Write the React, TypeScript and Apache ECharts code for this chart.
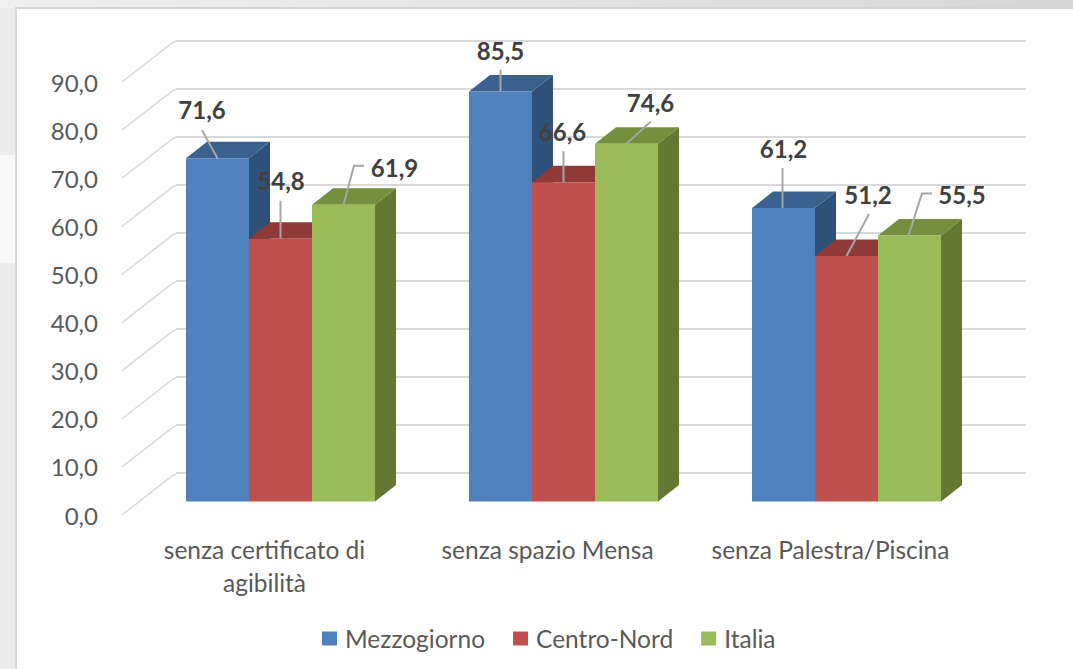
import React, { useEffect, useRef } from "react";
import * as echarts from "echarts";

const categories = ["senza certificato di\nagibilità", "senza spazio Mensa", "senza Palestra/Piscina"];
const seriesNames = ["Mezzogiorno", "Centro-Nord", "Italia"];
const mezzogiorno = [71.6, 85.5, 61.2];
const centroNord = [54.8, 66.6, 51.2];
const italia = [61.9, 74.6, 55.5];
const yTicks = [0, 10, 20, 30, 40, 50, 60, 70, 80, 90];

// layout: [front, top, side] colours per series
const faceColors = [
  ["#4f81bd", "#3b618f", "#2f5078"],
  ["#c0504d", "#8f3a38", "#7a3130"],
  ["#9bbb59", "#768f3f", "#647733"],
];
const DEPTH_X = 21;
const DEPTH_Y = 16.5;
const BAR_RATIO = 63 / 283;
const FONT = "Lato, 'Open Sans', sans-serif";

// label and leader-line placement relative to each bar's front-top centre: [series][category]
const labelOffsets = [
  [[-15.5, -49], [0, -41], [0, -60]],
  [[0.5, -58], [-1, -51], [21.5, -62]],
  [[51, -37], [24, -41], [52.5, -41]],
];
const leaderLines = [
  [[[0, 0], [-15.5, -28]], [[0, 0], [0, -22]], [[-1, 0], [-1, -40]]],
  [[[0, 0], [0, -38]], [[0, 0], [0, -31]], [[0, 0], [22.5, -42]]],
  [[[0, 0], [10.5, -39], [20.5, -39]], [[0, 0], [24, -22]], [[-1, 0], [12.5, -42], [22.5, -42]]],
];

const fmt = (v: number) => v.toFixed(1).replace(".", ",");

function barRenderer(si: number) {
  return (_params: any, api: any) => {
    const idx = api.value(0);
    const val = api.value(1);
    const band = api.size([1, 0])[0];
    const w = band * BAR_RATIO;
    const [cx, top] = api.coord([idx, val]);
    const [, base] = api.coord([idx, 0]);
    const x0 = cx + (si - 1.5) * w;
    const x1 = x0 + w;
    const [front, topC, side] = faceColors[si];
    const anchorX = (x0 + x1) / 2;
    const [tdx, tdy] = labelOffsets[si][idx];
    const line = leaderLines[si][idx].map((p) => [anchorX + p[0], top + p[1]]);
    return {
      type: "group",
      children: [
        { type: "polygon", shape: { points: [[x1, base], [x1 + DEPTH_X, base - DEPTH_Y], [x1 + DEPTH_X, top - DEPTH_Y], [x1, top]] }, style: { fill: side } },
        { type: "polygon", shape: { points: [[x0, top], [x1, top], [x1 + DEPTH_X, top - DEPTH_Y], [x0 + DEPTH_X, top - DEPTH_Y]] }, style: { fill: topC } },
        { type: "rect", shape: { x: x0, y: top, width: w, height: base - top }, style: { fill: front } },
        { type: "polyline", shape: { points: line }, style: { fill: "none", stroke: "#a6a6a6", lineWidth: 2 } },
        { type: "text", x: anchorX + tdx, y: top + tdy, style: { text: fmt(val), fill: "#404040", font: `bold 24px ${FONT}`, textAlign: "center", textVerticalAlign: "middle" } },
      ],
    };
  };
}

function wallRenderer(_params: any, api: any) {
  const [x, y] = api.coord([0, api.value(0)]);
  return {
    type: "polyline",
    shape: { points: [[x, y], [x + 50, y - 39], [x + 54, y - 41]] },
    style: { fill: "none", stroke: "#d9d9d9", lineWidth: 1.5 },
  };
}

export default function App() {
  const ref = useRef<HTMLDivElement>(null);
  useEffect(() => {
    const chart = echarts.init(ref.current!, null, { renderer: "svg" });
    const values = [mezzogiorno, centroNord, italia];
    chart.setOption({
      animation: false,
      backgroundColor: "transparent",
      grid: [
        { left: 122, width: 54, top: 82, height: 433 },
        { left: 176, width: 850, top: 41, height: 432 },
        { left: 139, width: 849, top: 70, height: 431.5 },
      ],
      xAxis: [
        { gridIndex: 0, type: "value", min: 0, max: 1, show: false },
        { gridIndex: 1, type: "value", min: 0, max: 1, show: false },
        {
          gridIndex: 2,
          type: "category",
          data: categories,
          axisLine: { show: false },
          axisTick: { show: false },
          axisLabel: { margin: 31, color: "#595959", fontFamily: FONT, fontSize: 24.5, lineHeight: 33, padding: [0, 32, 0, 0], interval: 0 },
        },
      ],
      yAxis: [
        {
          gridIndex: 0,
          type: "value",
          min: 0,
          max: 90,
          interval: 10,
          axisLine: { show: false },
          axisTick: { show: false },
          splitLine: { show: false },
          axisLabel: { margin: 24, color: "#595959", fontFamily: FONT, fontSize: 24, formatter: (v: number) => fmt(v) },
        },
        {
          gridIndex: 1,
          type: "value",
          min: 0,
          max: 90,
          interval: 10,
          axisLine: { show: false },
          axisTick: { show: false },
          axisLabel: { show: false },
          splitLine: { show: true, lineStyle: { color: "#d9d9d9", width: 2 } },
        },
        { gridIndex: 2, type: "value", min: 0, max: 90, interval: 10, show: false, splitLine: { show: false } },
      ],
      legend: {
        left: 317,
        top: 621,
        itemWidth: 15,
        itemHeight: 14,
        itemGap: 28,
        icon: "rect",
        data: seriesNames,
        textStyle: { color: "#595959", fontFamily: FONT, fontSize: 24.5, padding: [0, 0, 0, 3] },
      },
      series: [
        {
          type: "custom",
          name: "pareti",
          xAxisIndex: 0,
          yAxisIndex: 0,
          silent: true,
          data: yTicks.map((v) => [v]),
          renderItem: wallRenderer,
          encode: { y: 0 },
        },
        ...seriesNames.map((name, si) => ({
          type: "custom",
          name,
          xAxisIndex: 2,
          yAxisIndex: 2,
          silent: true,
          clip: false,
          itemStyle: { color: faceColors[si][0] },
          data: values[si].map((v, i) => [i, v]),
          encode: { x: 0, y: 1 },
          renderItem: barRenderer(si),
        })),
      ],
    });
    return () => chart.dispose();
  }, []);
  return (
    <div style={{ position: "absolute", left: 0, top: 0, width: 1073, height: 669, background: "#ececec", overflow: "hidden" }}>
      <div style={{ position: "absolute", left: 0, top: 0, width: 1073, height: 8, background: "linear-gradient(90deg, #f0f0f0, #d6d6d6)" }} />
      <div style={{ position: "absolute", left: 0, top: 155, width: 15, height: 108, background: "#f8f8f8" }} />
      <div style={{ position: "absolute", left: 15, top: 7, right: 0, bottom: 0, background: "#ffffff", borderLeft: "2px solid #d9d9d9", borderTop: "2px solid #d4d4d4" }} />
      <div ref={ref} style={{ position: "absolute", left: 0, top: 0, width: 1073, height: 669 }} />
    </div>
  );
}
